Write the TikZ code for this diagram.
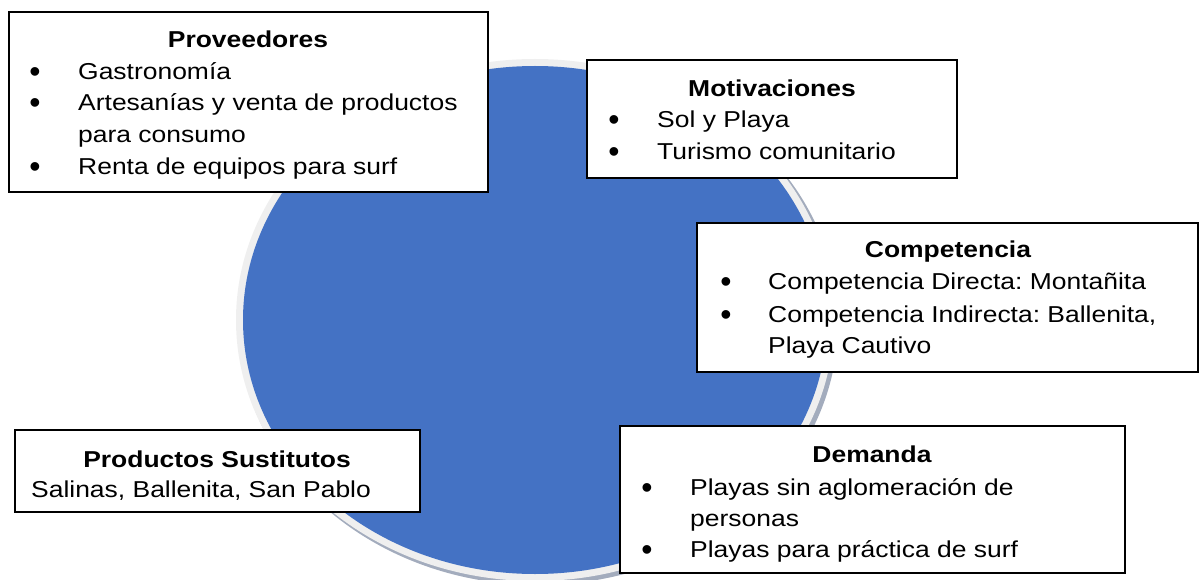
\documentclass[tikz,border=0pt]{standalone}
\usepackage{fontspec}
\setmainfont{Liberation Sans}[FakeStretch=1.15]
\newfontfamily\bulletfont{Liberation Sans}
\frenchspacing
\definecolor{circblue}{HTML}{4472C4}
\definecolor{rimgray}{HTML}{EFEFEF}
\definecolor{shadowgray}{HTML}{A3ACBD}
\newcommand{\boxfont}{\fontsize{23}{31}\selectfont}
\tikzset{
  box/.style={draw=black, line width=2pt, fill=white},
  boxtitle/.style={font=\boxfont\bfseries, anchor=base, inner sep=0pt},
  itemline/.style={anchor=base west, inner sep=0pt},
  bulletdot/.style={font=\bulletfont\fontsize{32}{31}\selectfont, anchor=base, inner sep=0pt, yshift=-3pt},
}

\begin{document}
\begin{tikzpicture}[x=1pt,y=-1pt,font=\boxfont]
\useasboundingbox (0,0) rectangle (1200,580);

% Circle with rim and shadow
\fill[shadowgray] (538,323) ellipse [x radius=300pt, y radius=262pt];
\fill[rimgray] (535,320) ellipse [x radius=299pt, y radius=261pt];
\fill[circblue] (535,320) ellipse [x radius=292pt, y radius=254pt];

% Proveedores
\draw[box] (9,12) rectangle (488,192);
\node[boxtitle] (prov) at (248,48) {Proveedores};
\foreach \yy in {80,111,175}
  \node[bulletdot] (prov-b\yy) at (35,\yy) {•};
\foreach \yy/\txt in {80/Gastronomía,111/Artesanías y venta de productos,143/para consumo,175/Renta de equipos para surf}
  \node[itemline] (prov-\yy) at (78,\yy) {\txt};

% Motivaciones
\draw[box] (587,60) rectangle (957,178);
\node[boxtitle] (moti) at (772,97) {Motivaciones};
\foreach \yy/\txt in {128/Sol y Playa,160/Turismo comunitario}{
  \node[bulletdot] (moti-b\yy) at (614,\yy) {•};
  \node[itemline] (moti-\yy) at (657,\yy) {\txt};
}

% Competencia
\draw[box] (697,223) rectangle (1198,372);
\node[boxtitle] (comp) at (948,258) {Competencia};
\foreach \yy in {290,322}
  \node[bulletdot] (comp-b\yy) at (726,\yy) {•};
\foreach \yy/\txt in {290/Competencia Directa: Montañita,322/{Competencia Indirecta: Ballenita,},353/Playa Cautivo}
  \node[itemline] (comp-\yy) at (768,\yy) {\txt};

% Productos Sustitutos
\draw[box] (15,430) rectangle (420,512);
\node[boxtitle] (sust) at (217,467) {Productos Sustitutos};
\node[itemline] (sust-list) at (31,497) {Salinas, Ballenita, San Pablo};

% Demanda
\draw[box] (620,426) rectangle (1125,573);
\node[boxtitle] (dema) at (872,462) {Demanda};
\foreach \yy in {495,557}
  \node[bulletdot] (dema-b\yy) at (647,\yy) {•};
\foreach \yy/\txt in {495/Playas sin aglomeración de,526/personas,557/Playas para práctica de surf}
  \node[itemline] (dema-\yy) at (690,\yy) {\txt};

\end{tikzpicture}
\end{document}
